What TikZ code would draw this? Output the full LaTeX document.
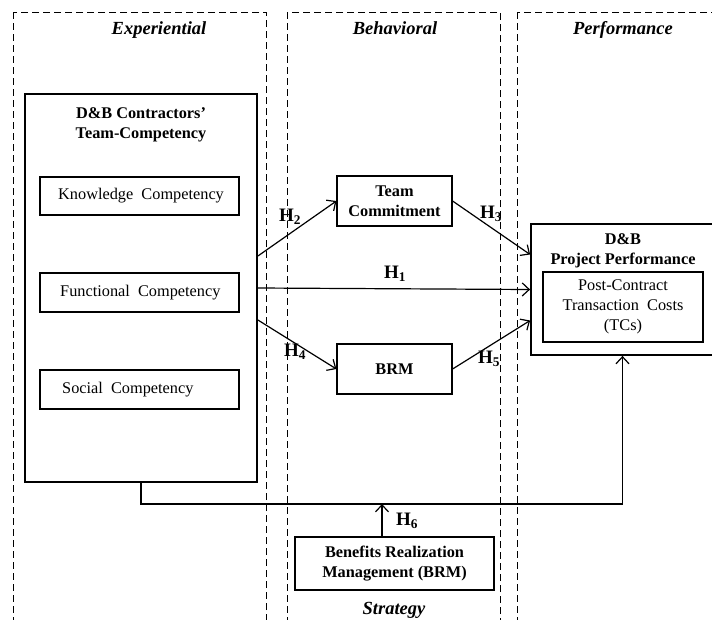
\documentclass[tikz,border=0pt]{standalone}
\usepackage{fontspec}
\setmainfont{Liberation Serif}
\usetikzlibrary{arrows.meta}
\begin{document}
\begin{tikzpicture}[x=1pt,y=-1pt,
  panel/.style={draw, dash pattern=on 7pt off 4pt, line width=0.9pt},
  box/.style={draw, line width=1.2pt, inner sep=0pt},
  bigbox/.style={draw, line width=1.8pt, inner sep=0pt},
  txt/.style={font=\fontsize{16.3}{20}\selectfont, align=center, inner sep=0pt},
  btxt/.style={font=\fontsize{16.3}{20}\selectfont\bfseries, align=center, inner sep=0pt},
  head/.style={font=\fontsize{18.5}{22}\selectfont\bfseries\itshape, inner sep=0pt, anchor=base},
  hyp/.style={font=\fontsize{19}{22}\selectfont\bfseries, inner sep=0pt},
  arr/.style={line width=1.2pt, -{Straight Barb[length=7pt,width=13pt,line width=1.2pt]}},
]
\useasboundingbox (0,0) rectangle (712,619);

% dashed panels
\draw[panel] (13,12) rectangle (266,630);
\draw[panel] (287,12) rectangle (500,630);
\draw[panel] (517,12) rectangle (720,630);
\node[head] (hexp) at (159,34) {Experiential};
\node[head] (hbeh) at (395,34) {Behavioral};
\node[head] (hper) at (623,34) {Performance};
\node[head] (hstr) at (394,614) {Strategy};

% left main box
\node[bigbox, minimum width=232pt, minimum height=388pt] (main) at (141,288) {};
\node[btxt] (maint) at (141,125) {D\&B Contractors’\\Team-Competency};
\node[box, minimum width=199pt, minimum height=38pt] (know) at (139.5,196) {};
\node[box, minimum width=199pt, minimum height=39pt] (func) at (139.5,292.5) {};
\node[box, minimum width=199pt, minimum height=39pt] (soc) at (139.5,389.5) {};
\node[txt, anchor=west] (knowt) at (58,196) {Knowledge\ \ Competency};
\node[txt, anchor=west] (funct) at (60,292.5) {Functional\ \ Competency};
\node[txt, anchor=west] (soct) at (62,389.5) {Social\ \ Competency};

% behavioral boxes
\node[box, btxt, minimum width=115pt, minimum height=50pt] (tc) at (394.5,201) {Team\\Commitment};
\node[box, btxt, minimum width=115pt, minimum height=50pt] (brm) at (394.5,369) {BRM};

% performance
\node[bigbox, minimum width=183pt, minimum height=131pt] (perf) at (622.5,289.5) {};
\node[btxt] (perft) at (623,251) {D\&B\\Project Performance};
\node[box, txt, minimum width=160pt, minimum height=70pt] (tcs) at (623,307) {Post-Contract\\Transaction\ \ Costs\\(TCs)};

% strategy
\node[box, btxt, minimum width=199pt, minimum height=53pt] (ben) at (394.5,563.5) {Benefits Realization\\Management (BRM)};
\coordinate (j) at (382,504);

% connectors
\draw[arr] ([yshift=32pt]main.east) -- (tc.west);
\draw[arr] (tc.east) -- ([yshift=35pt]perf.west);
\draw[arr] (main.east) -- (perf.west);
\draw[arr] ([yshift=-32pt]main.east) -- (brm.west);
\draw[arr] (brm.east) -- ([yshift=-31pt]perf.west);
\draw[arr] (main.south) |- (j) -| (perf.south);
\draw[arr] (ben.north -| j) -- (j);

% hypothesis labels
\node[hyp] (h1) at (395,274) {H\textsubscript{1}};
\node[hyp] (h2) at (290,217) {H\textsubscript{2}};
\node[hyp] (h3) at (491,214) {H\textsubscript{3}};
\node[hyp] (h4) at (295,352) {H\textsubscript{4}};
\node[hyp] (h5) at (489,359) {H\textsubscript{5}};
\node[hyp] (h6) at (407,521) {H\textsubscript{6}};
\end{tikzpicture}
\end{document}
